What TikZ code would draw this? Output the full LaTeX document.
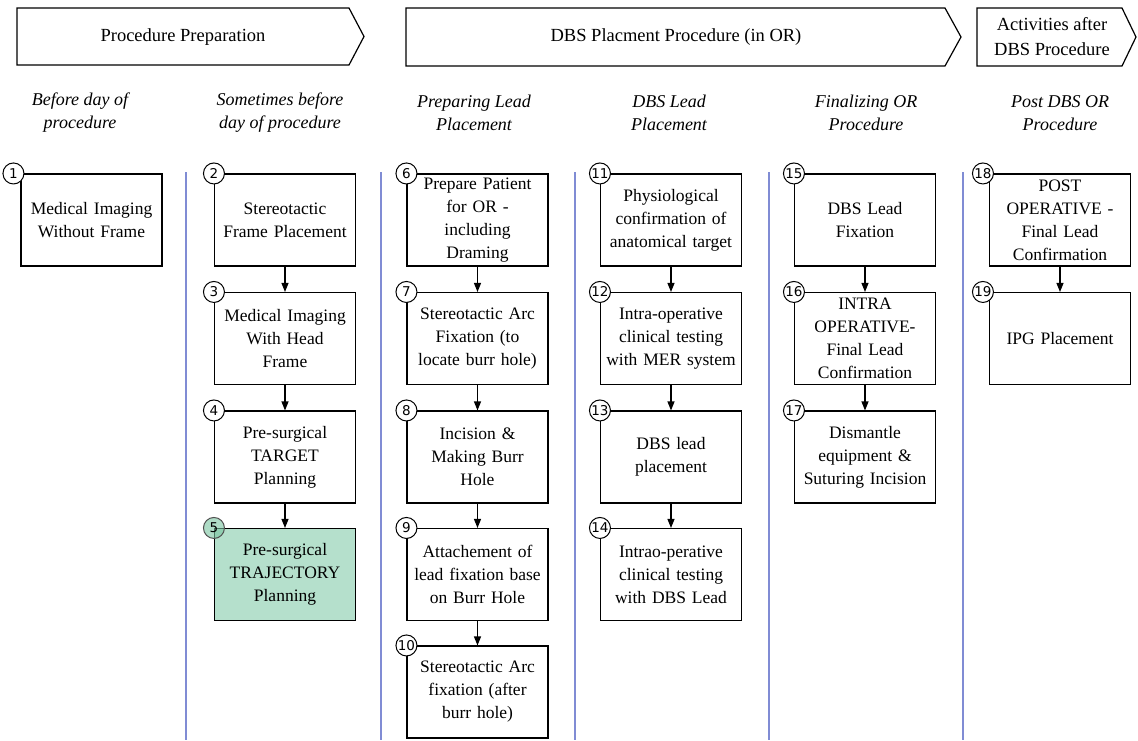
\documentclass[tikz,border=0pt]{standalone}
\usepackage{fontspec}
\setmainfont{Liberation Serif}
\newfontfamily\numfont{DejaVu Sans}
\usetikzlibrary{arrows.meta}
\definecolor{sepblue}{RGB}{128,140,212}
\definecolor{stepgreen}{RGB}{181,224,204}
\definecolor{circgreen}{RGB}{120,196,160}
\definecolor{circline}{RGB}{80,80,80}
\begin{document}
\begin{tikzpicture}[x=1pt,y=-1pt,
 stepbox/.style={draw, line width=1.1pt, minimum width=141pt, minimum height=92pt, text width=139pt, align=center, inner sep=0pt, font=\fontsize{17.5}{23}\selectfont},
 numcirc/.style={circle, draw, line width=1pt, fill=white, minimum size=21pt, inner sep=0pt, font=\numfont\fontsize{13.5}{13.5}\selectfont},
 flow/.style={-{Triangle[length=9pt,width=7pt]}, line width=1.1pt},
 phase/.style={draw, line width=1.2pt, line join=miter},
 phasetext/.style={align=center, font=\fontsize{18.5}{25}\selectfont},
 colhead/.style={align=center, font=\itshape\fontsize{18}{23}\selectfont},
 sep/.style={draw=sepblue, line width=1.3pt}]
\useasboundingbox (0,0) rectangle (1138,740);

% phase arrows
\draw[phase] (17,8) -- (349,8) -- (364,36.5) -- (349,65) -- (17,65) -- cycle;
\node[phasetext] (p1) at (183,37) {Procedure Preparation};
\draw[phase] (406,8) -- (945,8) -- (961,37) -- (945,66) -- (406,66) -- cycle;
\node[phasetext] (p2) at (676,37) {DBS Placment Procedure (in OR)};
\draw[phase] (977,8) -- (1122,8) -- (1136,37) -- (1122,66) -- (977,66) -- cycle;
\node[phasetext] (p3) at (1052,37) {Activities after\\DBS Procedure};

% column headers
\node[colhead] (h1) at (80,113) {Before day of\\procedure};
\node[colhead] (h2) at (280,113) {Sometimes before\\day of procedure};
\node[colhead] (h3) at (474,113) {Preparing Lead\\Placement};
\node[colhead] (h4) at (669,113) {DBS Lead\\Placement};
\node[colhead] (h5) at (866,113) {Finalizing OR\\Procedure};
\node[colhead] (h6) at (1060,113) {Post DBS OR\\Procedure};

% separators
\foreach \xx in {186,381,575,769,963} \draw[sep] (\xx,172) -- (\xx,740);

% column 1
\node[stepbox] (b1) at (91.5,220) {Medical Imaging\\Without Frame};
% column 2
\node[stepbox] (b2) at (285,220) {Stereotactic\\Frame Placement};
\node[stepbox] (b3) at (285,338.5) {Medical Imaging\\With Head\\Frame};
\node[stepbox] (b4) at (285,457) {Pre-surgical\\TARGET\\Planning};
\node[stepbox, fill=stepgreen] (b5) at (285,574.5) {Pre-surgical\\TRAJECTORY\\Planning};
% column 3
\node[stepbox] (b6) at (477.5,220) {Prepare Patient\\for OR -\\including\\Draming};
\node[stepbox] (b7) at (477.5,338.5) {Stereotactic Arc\\Fixation (to\\locate burr hole)};
\node[stepbox] (b8) at (477.5,457) {Incision \&\\Making Burr\\Hole};
\node[stepbox] (b9) at (477.5,574.5) {Attachement of\\lead fixation base\\on Burr Hole};
\node[stepbox] (b10) at (477.5,692) {Stereotactic Arc\\fixation (after\\burr hole)};
% column 4
\node[stepbox] (b11) at (671,220) {Physiological\\confirmation of\\anatomical target};
\node[stepbox] (b12) at (671,338.5) {Intra-operative\\clinical testing\\with MER system};
\node[stepbox] (b13) at (671,457) {DBS lead\\placement};
\node[stepbox] (b14) at (671,574.5) {Intrao-perative\\clinical testing\\with DBS Lead};
% column 5
\node[stepbox] (b15) at (865,220) {DBS Lead\\Fixation};
\node[stepbox] (b16) at (865,338.5) {INTRA\\OPERATIVE-\\Final Lead\\Confirmation};
\node[stepbox] (b17) at (865,457) {Dismantle\\equipment \&\\Suturing Incision};
% column 6
\node[stepbox] (b18) at (1060,220) {POST\\OPERATIVE -\\Final Lead\\Confirmation};
\node[stepbox] (b19) at (1060,338.5) {IPG Placement};

% connectors
\draw[flow] (b2) -- (b3);
\draw[flow] (b3) -- (b4);
\draw[flow] (b4) -- (b5);
\draw[flow] (b6) -- (b7);
\draw[flow] (b7) -- (b8);
\draw[flow] (b8) -- (b9);
\draw[flow] (b9) -- (b10);
\draw[flow] (b11) -- (b12);
\draw[flow] (b12) -- (b13);
\draw[flow] (b13) -- (b14);
\draw[flow] (b15) -- (b16);
\draw[flow] (b16) -- (b17);
\draw[flow] (b18) -- (b19);

% number circles
\node[numcirc] (n1) at ([xshift=-7pt]b1.north west) {1};
\foreach \i in {2,3,4,6,7,8,9,10,11,12,13,14,15,16,17}
  \node[numcirc] (n\i) at (b\i.north west) {\i};
\node[numcirc, draw=circline, fill=circgreen, fill opacity=0.6, text opacity=1] (n5) at (b5.north west) {5};
\node[numcirc] (n18) at ([xshift=-6pt]b18.north west) {18};
\node[numcirc] (n19) at ([xshift=-6pt]b19.north west) {19};
\end{tikzpicture}
\end{document}
